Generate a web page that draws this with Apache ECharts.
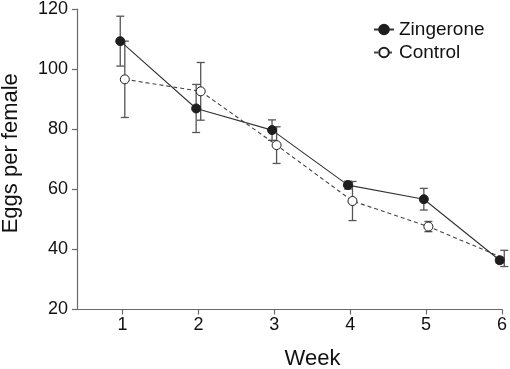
<!DOCTYPE html>
<html>
<head>
<meta charset="utf-8">
<script src="https://cdn.jsdelivr.net/npm/echarts@6/dist/echarts.min.js"></script>
<style>html,body{margin:0;padding:0;background:#fff}#c{width:510px;height:369px}</style>
</head>
<body>
<div id="c"></div>
<script>
const weeks = [1, 2, 3, 4, 5, 6];
const zingeroneMean = [109.3, 86.9, 79.7, 61.4, 56.7, 36.4];
const zingeroneErr  = [8.3, 8.0, 3.4, 1.3, 3.6, 1.0];
const controlMean   = [96.6, 92.6, 74.7, 56.1, 47.6, 37.0];
const controlErr    = [12.7, 9.6, 6.1, 6.5, 1.7, 2.7];
const yTicks = [20, 40, 60, 80, 100, 120];
const seriesNames = ['Zingerone', 'Control'];

const DODGE = 0.03;
const FONT = 'Liberation Sans';
const INK = '#1e1e1e';
const AXIS = '#6a6a6a';
const ERR = '#555';

function pts(means, d) { return weeks.map((w, i) => [w + d, means[i]]); }
function errData(means, errs, d) { return weeks.map((w, i) => [w + d, means[i] - errs[i], means[i] + errs[i]]); }

function errRender(params, api) {
  const x = api.value(0), lo = api.value(1), hi = api.value(2);
  const pLo = api.coord([x, lo]), pHi = api.coord([x, hi]);
  const cap = 4;
  const st = { stroke: ERR, lineWidth: 1.3 };
  return { type: 'group', children: [
    { type: 'line', shape: { x1: pLo[0], y1: pLo[1], x2: pHi[0], y2: pHi[1] }, style: st },
    { type: 'line', shape: { x1: pLo[0]-cap, y1: pLo[1], x2: pLo[0]+cap, y2: pLo[1] }, style: st },
    { type: 'line', shape: { x1: pHi[0]-cap, y1: pHi[1], x2: pHi[0]+cap, y2: pHi[1] }, style: st }
  ]};
}

const chart = echarts.init(document.getElementById('c'), null, { renderer: 'canvas' });
chart.setOption({
  animation: false,
  backgroundColor: '#fff',
  textStyle: { fontFamily: FONT },
  grid: { left: 77, right: 8, top: 9, bottom: 59.5, containLabel: false, outerBoundsMode: 'none' },
  legend: {
    orient: 'vertical', left: 368, top: 15, itemWidth: 20, itemHeight: 12, itemGap: 4,
    data: seriesNames,
    textStyle: { fontSize: 19, color: '#111', fontFamily: FONT, lineHeight: 18 }
  },
  xAxis: {
    type: 'value', min: 0.4, max: 6,
    name: 'Week', nameLocation: 'middle', nameGap: 38,
    nameTextStyle: { fontSize: 22, color: '#111', fontFamily: FONT, padding: [0, 0, 0, 46] },
    axisLine: { lineStyle: { color: AXIS, width: 1.2 } },
    axisTick: { show: true, length: 5, customValues: weeks, lineStyle: { color: AXIS, width: 1.2 } },
    axisLabel: { customValues: weeks, fontSize: 18, color: '#111', margin: 7, fontFamily: FONT },
    splitLine: { show: false }
  },
  yAxis: {
    type: 'value', min: 20, max: 120, interval: 20,
    name: 'Eggs per female', nameLocation: 'middle', nameGap: 55, nameRotate: 90,
    nameTextStyle: { fontSize: 22, color: '#111', fontFamily: FONT, padding: [0, 0, 0, 12] },
    axisLine: { show: true, lineStyle: { color: AXIS, width: 1.2 } },
    axisTick: { show: true, length: 5, lineStyle: { color: AXIS, width: 1.2 } },
    axisLabel: { fontSize: 18, color: '#111', margin: 9, fontFamily: FONT, customValues: yTicks },
    splitLine: { show: false }
  },
  series: [
    { type: 'custom', name: 'errC', renderItem: errRender, data: errData(controlMean, controlErr, DODGE), z: 1, silent: true },
    { type: 'custom', name: 'errZ', renderItem: errRender, data: errData(zingeroneMean, zingeroneErr, -DODGE), z: 1, silent: true },
    {
      type: 'line', name: seriesNames[1], data: pts(controlMean, DODGE), z: 3,
      symbol: 'circle', symbolSize: 9,
      lineStyle: { color: '#444', width: 1.1, type: [4, 3] },
      itemStyle: { color: '#fff', borderColor: INK, borderWidth: 1 }
    },
    {
      type: 'line', name: seriesNames[0], data: pts(zingeroneMean, -DODGE), z: 4,
      symbol: 'circle', symbolSize: 9,
      lineStyle: { color: '#333', width: 1.1 },
      itemStyle: { color: INK, borderColor: INK, borderWidth: 1 }
    }
  ]
});
</script>
</body>
</html>
